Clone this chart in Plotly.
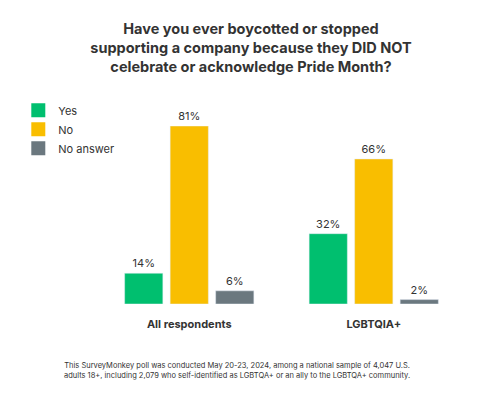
import plotly.graph_objects as go

categories = ["All respondents", "LGBTQIA+"]
series = ["Yes", "No", "No answer"]
values = {"Yes": [14, 32], "No": [81, 66], "No answer": [6, 2]}
colors = {"Yes": "#00BF6F", "No": "#F9BE00", "No answer": "#6B787F"}

fig = go.Figure()
for s in series:
    fig.add_trace(go.Bar(name=s, x=categories, y=values[s], marker_color=colors[s],
                         text=[f"{v}%" for v in values[s]], textposition="outside",
                         textfont=dict(size=11, color="#333"), cliponaxis=False,
                         showlegend=False))
for s in series:
    fig.add_trace(go.Scatter(name=s, x=[None], y=[None], mode="markers", legendgroup=s,
                             marker=dict(symbol="square", size=14, color=colors[s])))

fig.update_layout(
    width=486, height=400, barmode="group", bargap=0.26, bargroupgap=0.16,
    margin=dict(l=88, r=28, t=118, b=104),
    plot_bgcolor="white", paper_bgcolor="white",
    font=dict(family="Inter, Noto Sans, sans-serif", color="#333"),
    title=dict(text="<b>Have you ever boycotted or stopped<br>supporting a company because they DID NOT<br>celebrate or acknowledge Pride Month?</b>",
               x=0.5, xanchor="center", y=0.935, yanchor="top", font=dict(size=14.5, color="#333")),
    legend=dict(x=-0.21, y=1.17, xanchor="left", yanchor="top", font=dict(size=11),
                itemwidth=30, traceorder="normal", tracegroupgap=6),
    showlegend=True,
)
fig.update_xaxes(showline=False, tickfont=dict(size=11, color="#333"), ticks="",
                 tickprefix="<b>", ticksuffix="</b>", ticklabelstandoff=12)
fig.update_yaxes(range=[0, 81], visible=False)
fig.add_annotation(text="This SurveyMonkey poll was conducted May 20-23, 2024, among a national sample of 4,047 U.S.<br>adults 18+, including 2,079 who self-identified as LGBTQA+ or an ally to the LGBTQA+ community.",
                   xref="paper", yref="paper", x=0.38, y=-0.31, xanchor="center", yanchor="top",
                   showarrow=False, font=dict(size=7.5, color="#333"), align="center")
fig.write_html("out.html")
